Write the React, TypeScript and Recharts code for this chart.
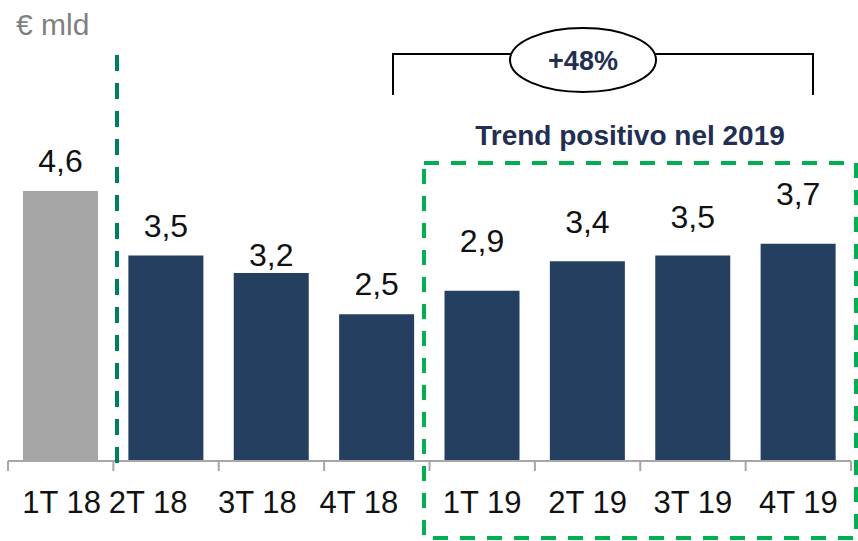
import { BarChart, Bar, XAxis, YAxis, Cell, LabelList } from 'recharts'

const quarters = ['1T 18', '2T 18', '3T 18', '4T 18', '1T 19', '2T 19', '3T 19', '4T 19']
const values = [4.6, 3.5, 3.2, 2.5, 2.9, 3.4, 3.5, 3.7]
const barColors = ['#A6A6A6', '#243F60', '#243F60', '#243F60', '#243F60', '#243F60', '#243F60', '#243F60']

// spostamenti manuali come nella slide originale
const labelGap = [19, 19, 7, 19, 39, 28, 28, 39]
const tickShift = [1, -18, -14, -18, 0, 0, 0, 0]

const chartData = quarters.map((q, i) => ({ quarter: q, value: values[i] }))

const FONT = '"Liberation Sans", Arial, sans-serif'
const NAVY_TEXT = '#222F52'

const fmt = (v: number) => v.toFixed(1).replace('.', ',')

// etichetta asse x + tacche ai bordi delle categorie
const QuarterTick = (props: any) => {
  const { x, y, payload, width, visibleTicksCount, index } = props
  const step = width / visibleTicksCount
  return (
    <g>
      <line x1={x - step / 2} y1={y} x2={x - step / 2} y2={y + 10} stroke="#A6A6A6" strokeWidth={2} />
      {index === visibleTicksCount - 1 && (
        <line x1={x + step / 2} y1={y} x2={x + step / 2} y2={y + 10} stroke="#A6A6A6" strokeWidth={2} />
      )}
      <text x={x + tickShift[index]} y={y + 52} textAnchor="middle" fontSize={31} fontFamily={FONT} fill="#111">
        {payload.value}
      </text>
    </g>
  )
}

const ValueLabel = (props: any) => {
  const { x, y, width, value, index } = props
  return (
    <text x={x + width / 2} y={y - labelGap[index]} textAnchor="middle" fontSize={32} fontFamily={FONT} fill="#111">
      {fmt(Number(value))}
    </text>
  )
}

export default function App() {
  return (
    <div style={{ position: 'absolute', left: 0, top: 0, width: 858, height: 541, background: '#fff' }}>
      <BarChart
        width={858}
        height={541}
        data={chartData}
        margin={{ top: 50, right: 7, bottom: 0, left: 8 }}
      >
        <XAxis
          dataKey="quarter"
          height={80}
          tickLine={false}
          tickSize={0}
          tickMargin={0}
          axisLine={{ stroke: '#A6A6A6', strokeWidth: 2 }}
          tick={<QuarterTick />}
          interval={0}
        />
        <YAxis hide domain={[0, 7]} />
        <Bar dataKey="value" barSize={75} isAnimationActive={false}>
          {chartData.map((d, i) => (
            <Cell key={d.quarter} fill={barColors[i]} />
          ))}
          <LabelList dataKey="value" content={<ValueLabel />} />
        </Bar>
      </BarChart>

      {/* annotazioni sovrapposte */}
      <svg width={858} height={541} style={{ position: 'absolute', left: 0, top: 0, pointerEvents: 'none' }}>
        <text x={16} y={35} fontSize={30} fontFamily={FONT} fill="#7F7F7F">€ mld</text>
        <line x1={117} y1={55} x2={117} y2={464} stroke="#007E64" strokeWidth={4} strokeDasharray="16 12" />
        <path d="M393 95 V54 H813 V95" fill="none" stroke="#000" strokeWidth={2} />
        <ellipse cx={583} cy={60} rx={73} ry={32} fill="#fff" stroke="#000" strokeWidth={2} />
        <text x={583} y={70} textAnchor="middle" fontSize={27} fontWeight="bold" fontFamily={FONT} fill={NAVY_TEXT}>+48%</text>
        <text x={630} y={145} textAnchor="middle" fontSize={28} fontWeight="bold" fontFamily={FONT} fill={NAVY_TEXT}>
          Trend positivo nel 2019
        </text>
        <rect x={424} y={163} width={432} height={375} fill="none" stroke="#00B050" strokeWidth={4} strokeDasharray="15 12" />
      </svg>
    </div>
  )
}
